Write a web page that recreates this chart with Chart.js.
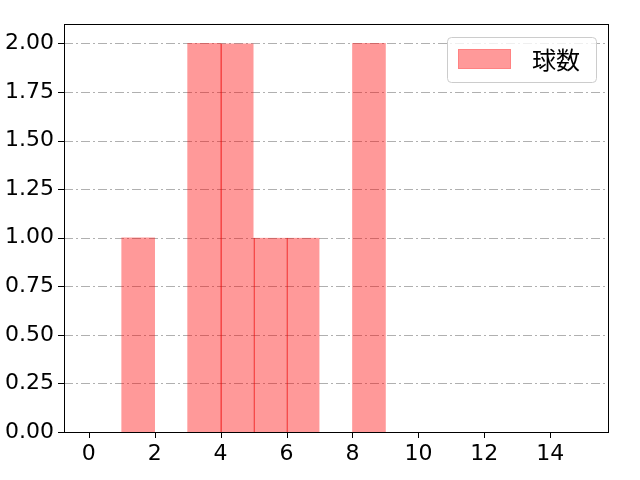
<!DOCTYPE html>
<html>
<head>
<meta charset="utf-8">
<script src="https://cdn.jsdelivr.net/npm/chart.js@4/dist/chart.umd.min.js"></script>
<style>
html,body{margin:0;padding:0;background:#fff;}
#wrap{width:640px;height:480px;}
</style>
</head>
<body>
<div id="wrap"><canvas id="c" width="640" height="480"></canvas></div>
<script>
// Histogram bins (left edges, width 1) and counts
const binEdges = [0,1,2,3,4,5,6,7,8,9,10,11,12,13,14,15];
const counts   = [0,1,0,2,2,1,1,0,2,0,0,0,0,0,0];
const seriesLabel = '球数';
const xTicks = [0,2,4,6,8,10,12,14];
const yTicks = [0,0.25,0.5,0.75,1,1.25,1.5,1.75,2];

const FONT = "'DejaVu Sans', 'Noto Sans CJK JP', sans-serif";
const points = counts.map((v,i)=>({x:(binEdges[i]+binEdges[i+1])/2, y:(v>0?v:null)}));

const legendPlugin = {
  id:'mplLegend',
  afterDraw(chart){
    const ctx = chart.ctx;
    const x0=447.5, y0=37.5, w=149, h=45, r=4;
    ctx.save();
    ctx.beginPath();
    ctx.moveTo(x0+r,y0);
    ctx.lineTo(x0+w-r,y0); ctx.quadraticCurveTo(x0+w,y0,x0+w,y0+r);
    ctx.lineTo(x0+w,y0+h-r); ctx.quadraticCurveTo(x0+w,y0+h,x0+w-r,y0+h);
    ctx.lineTo(x0+r,y0+h); ctx.quadraticCurveTo(x0,y0+h,x0,y0+h-r);
    ctx.lineTo(x0,y0+r); ctx.quadraticCurveTo(x0,y0,x0+r,y0);
    ctx.closePath();
    ctx.fillStyle='rgba(255,255,255,0.8)';
    ctx.fill();
    ctx.strokeStyle='#cccccc';
    ctx.lineWidth=1;
    ctx.stroke();
    ctx.fillStyle='rgba(255,0,0,0.4)';
    ctx.fillRect(458,49,53,20);
    ctx.strokeStyle='rgba(255,0,0,0.15)';
    ctx.strokeRect(458.5,49.5,52,19);
    ctx.fillStyle='#000';
    ctx.font="24px 'Noto Sans CJK JP', sans-serif";
    ctx.textBaseline='middle';
    ctx.textAlign='left';
    ctx.fillText(seriesLabel,532,60);
    ctx.restore();
  }
};

const axesPlugin = {
  id:'axesDeco',
  beforeDatasetsDraw(chart){
    const y=chart.scales.y, a=chart.chartArea, ctx=chart.ctx;
    ctx.save();
    ctx.strokeStyle='#b0b0b0';ctx.lineWidth=1;ctx.setLineDash([9,3,2,3]);
    yTicks.forEach(v=>{
      const py=Math.round(y.getPixelForValue(v))+0.5;
      ctx.beginPath();ctx.moveTo(a.left,py);ctx.lineTo(a.right,py);ctx.stroke();
    });
    ctx.restore();
  },
  afterDraw(chart){
    const y=chart.scales.y, x=chart.scales.x, a=chart.chartArea, ctx=chart.ctx;
    ctx.save();
    ctx.strokeStyle='#000';ctx.lineWidth=1;
    yTicks.forEach(v=>{
      const py=Math.round(y.getPixelForValue(v))+0.5;
      ctx.beginPath();ctx.moveTo(a.left-6,py);ctx.lineTo(a.left,py);ctx.stroke();
    });
    xTicks.forEach(v=>{
      const px=Math.round(x.getPixelForValue(v))+0.5;
      ctx.beginPath();ctx.moveTo(px,a.bottom);ctx.lineTo(px,a.bottom+6);ctx.stroke();
    });
    ctx.strokeRect(Math.round(a.left)+0.5,Math.round(a.top)+0.5,Math.round(a.right-a.left),Math.round(a.bottom-a.top));
    ctx.restore();
  }
};

new Chart(document.getElementById('c'),{
  type:'bar',
  data:{datasets:[{
    label:seriesLabel,
    data:points,
    backgroundColor:'rgba(255,0,0,0.4)',
    borderColor:'rgba(235,0,0,0.65)',
    borderWidth:(c)=>{
      const i=c.dataIndex;
      const hasLeft = i>0 && counts[i-1]>0;
      return {left: hasLeft?1:0, right:0, top:0, bottom:0};
    },
    borderSkipped:false,
    barPercentage:1.0,
    categoryPercentage:1.0,
    skipNull:true
  }]},
  options:{
    responsive:false,
    animation:false,
    devicePixelRatio:1,
    layout:{padding:{top:24,right:32,left:0,bottom:0}},
    plugins:{legend:{display:false},tooltip:{enabled:false}},
    scales:{
      x:{
        type:'linear',
        offset:false,
        min:-0.75,max:15.75,
        afterBuildTicks:(s)=>{s.ticks=xTicks.map(v=>({value:v}));},
        afterFit:(s)=>{s.height=48;},
        grid:{display:false,drawTicks:false},
        border:{display:false},
        ticks:{color:'#000',font:{family:FONT,size:22},padding:9,maxRotation:0,autoSkip:false}
      },
      y:{
        min:0,max:2.1,
        afterBuildTicks:(s)=>{s.ticks=yTicks.map(v=>({value:v}));},
        afterFit:(s)=>{s.width=64;},
        grid:{display:false,drawTicks:false},
        border:{display:false},
        ticks:{color:'#000',font:{family:FONT,size:22},padding:10,callback:(v)=>Number(v).toFixed(2),autoSkip:false}
      }
    }
  },
  plugins:[axesPlugin,legendPlugin]
});
</script>
</body>
</html>
